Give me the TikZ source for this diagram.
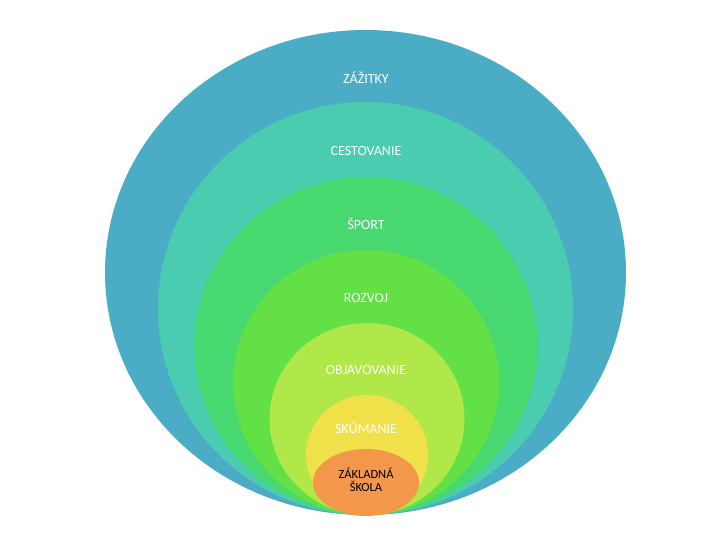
\documentclass[tikz,border=0pt]{standalone}
\usepackage{fontspec}
\setmainfont{Carlito}
\definecolor{cA}{RGB}{75,172,198}
\definecolor{cB}{RGB}{74,204,176}
\definecolor{cC}{RGB}{72,216,112}
\definecolor{cD}{RGB}{98,224,70}
\definecolor{cE}{RGB}{176,232,74}
\definecolor{cF}{RGB}{240,224,74}
\definecolor{cG}{RGB}{243,152,74}
\begin{document}
\begin{tikzpicture}[x=1pt,y=-1pt,
  lbl/.style={text=white,font=\fontsize{14}{15}\selectfont,inner sep=0pt},
  lblk/.style={text=black,font=\fontsize{12.5}{13.5}\selectfont,inner sep=0pt,align=center}]
\useasboundingbox[fill=white] (0,0) rectangle (720,540);
\fill[cA] (365.5,272.5) ellipse [x radius=260.5, y radius=242.5];
\fill[cB] (365.5,308.5) ellipse [x radius=207.5, y radius=206.5];
\fill[cC] (366,346) ellipse [x radius=171.5, y radius=169];
\fill[cD] (366,382.5) ellipse [x radius=133, y radius=132.5];
\fill[cE] (367,419) ellipse [x radius=97.5, y radius=96];
\fill[cF] (367,455) ellipse [x radius=61, y radius=60];
\fill[cG] (366,482.5) ellipse [x radius=53, y radius=33.5];
\node[lbl] (t1) at (366,78) {ZÁŽITKY};
\node[lbl] (t2) at (366,151) {CESTOVANIE};
\node[lbl] (t3) at (366,224) {ŠPORT};
\node[lbl] (t4) at (366,298) {ROZVOJ};
\node[lbl] (t5) at (366,370) {OBJAVOVANIE};
\node[lbl] (t6) at (366,428) {SKÚMANIE};
\node[lblk] (t7) at (366,480) {ZÁKLADNÁ\\ŠKOLA};
\end{tikzpicture}
\end{document}
